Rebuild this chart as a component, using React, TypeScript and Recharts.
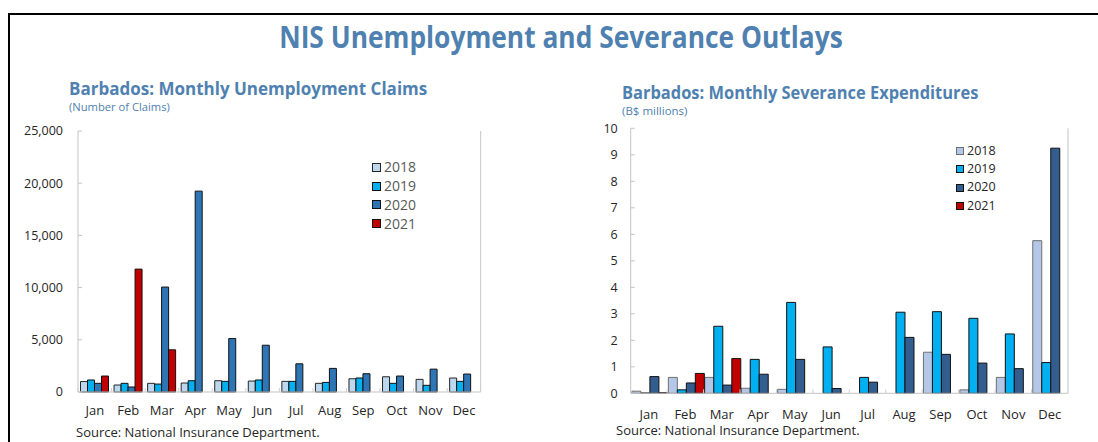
import { Bar, BarChart, Legend, XAxis, YAxis } from "recharts";

const months = ["Jan", "Feb", "Mar", "Apr", "May", "Jun", "Jul", "Aug", "Sep", "Oct", "Nov", "Dec"];
const years = ["2018", "2019", "2020", "2021"];

// unemployment claims (number)
const claims2018 = [1000, 670, 830, 860, 1080, 1050, 1020, 830, 1270, 1460, 1210, 1340];
const claims2019 = [1150, 830, 760, 1080, 1020, 1150, 1020, 920, 1340, 830, 640, 1020];
const claims2020 = [830, 480, 10050, 19240, 5120, 4480, 2700, 2260, 1750, 1530, 2190, 1720];
const claims2021 = [1530, 11770, 4040, null, null, null, null, null, null, null, null, null];
const claimTicks = [0, 5000, 10000, 15000, 20000, 25000];

// severance expenditures (B$ millions)
const sev2018 = [0.08, 0.6, 0.6, 0.19, 0.15, 0, 0, 0, 1.55, 0.13, 0.6, 5.76];
const sev2019 = [0.01, 0.13, 2.53, 1.28, 3.43, 1.75, 0.6, 3.06, 3.08, 2.83, 2.24, 1.16];
const sev2020 = [0.63, 0.39, 0.31, 0.72, 1.28, 0.18, 0.42, 2.11, 1.47, 1.14, 0.93, 9.25];
const sev2021 = [0.02, 0.75, 1.31, null, null, null, null, null, null, null, null, null];
const sevTicks = [0, 1, 2, 3, 4, 5, 6, 7, 8, 9, 10];

const claimsData = months.map((m, i) => ({
  month: m,
  y2018: claims2018[i],
  y2019: claims2019[i],
  y2020: claims2020[i],
  y2021: claims2021[i],
}));

const sevData = months.map((m, i) => ({
  month: m,
  y2018: sev2018[i],
  y2019: sev2019[i],
  y2020: sev2020[i],
  y2021: sev2021[i],
}));

const FONT = "'Open Sans', 'Noto Sans', sans-serif";
const BLUE_TEXT = "#4f81b0";
const AXIS = "#c4c4c4";

const leftFills = ["#bdd7ee", "#00b0f0", "#2e75b6", "#c00000"];
const leftStrokes = ["#262626", "#111", "#111", "#111"];
const rightFills = ["#b4c7e7", "#00b0f0", "#335d8f", "#c00000"];
const rightStrokes = ["#6f6f6f", "#111", "#111", "#111"];

function YearLegend({ fills, strokes, box, fontSize, rowH, color }: any) {
  return (
    <div style={{ fontFamily: FONT }}>
      {years.map((y, i) => (
        <div key={y} style={{ display: "flex", alignItems: "center", height: rowH }}>
          <span
            style={{
              width: box,
              height: box,
              background: fills[i],
              border: `1px solid ${strokes[i]}`,
              marginRight: 3,
              boxSizing: "border-box",
            }}
          />
          <span style={{ fontSize, color, lineHeight: 1 }}>{y}</span>
        </div>
      ))}
    </div>
  );
}

// month label plus a small separator mark at the left edge of each category
const monthTick = (band: number, margin: number) => (props: any) => {
  const { x, y, payload } = props;
  const axisY = y - margin;
  return (
    <g>
      <line x1={x - band / 2} x2={x - band / 2} y1={axisY - 4} y2={axisY} stroke="#d0d0d0" />
      <text x={x} y={y} dy="0.71em" textAnchor="middle" fill="#262626" fontSize={13} fontFamily={FONT}>
        {payload.value}
      </text>
    </g>
  );
};

const fmt = (v: number) => v.toLocaleString("en-US");

export default function App() {
  return (
    <div
      style={{
        position: "fixed",
        left: 0,
        top: 0,
        width: 1098,
        height: 442,
        background: "#fff",
        fontFamily: FONT,
        overflow: "hidden",
      }}
    >
      <div
        style={{
          position: "absolute",
          left: 8,
          top: 13,
          width: 1200,
          height: 500,
          borderTop: "2px solid #000",
          borderLeft: "2px solid #000",
        }}
      />
      <div
        style={{
          position: "absolute",
          left: 12,
          top: 15,
          width: 1098,
          textAlign: "center",
          fontSize: 31,
          fontWeight: 700,
          color: BLUE_TEXT,
          transform: "scaleX(0.85)",
          whiteSpace: "nowrap",
        }}
      >
        NIS Unemployment and Severance Outlays
      </div>

      <div style={{ position: "absolute", left: 69, top: 77, fontSize: 17, fontWeight: 700, color: BLUE_TEXT, whiteSpace: "nowrap" }}>
        Barbados: Monthly Unemployment Claims
      </div>
      <div style={{ position: "absolute", left: 69, top: 99, fontSize: 11.2, color: BLUE_TEXT }}>(Number of Claims)</div>

      <div
        style={{
          position: "absolute",
          left: 622,
          top: 81,
          fontSize: 17,
          fontWeight: 700,
          color: BLUE_TEXT,
          whiteSpace: "nowrap",
          transform: "scaleX(0.967)",
          transformOrigin: "left center",
        }}
      >
        Barbados: Monthly Severance Expenditures
      </div>
      <div style={{ position: "absolute", left: 622, top: 103, fontSize: 11.5, color: BLUE_TEXT }}>(B$ millions)</div>

      <div style={{ position: "absolute", left: 0, top: 0 }}>
        <BarChart
          width={560}
          height={442}
          data={claimsData}
          margin={{ top: 131, right: 0, left: 0, bottom: 20 }}
          barCategoryGap={2.5}
          barGap={0}
        >
          <XAxis
            dataKey="month"
            stroke={AXIS}
            tickLine={false}
            tickSize={0}
            tickMargin={14}
            height={30}
            interval={0}
            tick={monthTick(402.7 / 12, 14)}
          />
          <YAxis
            yAxisId="l"
            width={78}
            domain={[0, 25000]}
            ticks={claimTicks}
            tickFormatter={fmt}
            stroke={AXIS}
            tickSize={-4}
            tickMargin={19}
            tick={{ fill: "#262626", fontSize: 12.5, fontFamily: FONT }}
          />
          <YAxis
            yAxisId="r"
            orientation="right"
            width={79.3}
            domain={[0, 25000]}
            ticks={claimTicks}
            tickFormatter={fmt}
            stroke={AXIS}
            tickSize={-4}
            tickMargin={18}
            tick={{ fill: "#262626", fontSize: 12.5, fontFamily: FONT }}
          />
          <Legend
            layout="vertical"
            align="center"
            verticalAlign="middle"
            wrapperStyle={{ left: 372, top: 158, width: 80 }}
            content={() => (
              <YearLegend fills={leftFills} strokes={leftStrokes} box={9} fontSize={14} rowH={18.8} color="#595959" />
            )}
          />
          {years.map((y, i) => (
            <Bar
              key={y}
              yAxisId="l"
              dataKey={`y${y}`}
              name={y}
              fill={leftFills[i]}
              stroke={leftStrokes[i]}
              strokeWidth={1}
              isAnimationActive={false}
            />
          ))}
        </BarChart>
      </div>

      <div style={{ position: "absolute", left: 560, top: 0 }}>
        <BarChart
          width={538}
          height={442}
          data={sevData}
          margin={{ top: 128.3, right: 0, left: 0, bottom: 18.7 }}
          barCategoryGap={1.2}
          barGap={0}
        >
          <XAxis
            dataKey="month"
            stroke={AXIS}
            tickLine={false}
            tickSize={0}
            tickMargin={16}
            height={30}
            interval={0}
            tick={monthTick(437.3 / 12, 16)}
          />
          <YAxis
            yAxisId="l"
            width={70.7}
            domain={[0, 10]}
            ticks={sevTicks}
            stroke={AXIS}
            tickSize={-4}
            tickMargin={17}
            tick={{ fill: "#262626", fontSize: 12.5, fontFamily: FONT }}
          />
          <YAxis
            yAxisId="r"
            orientation="right"
            width={30}
            domain={[0, 10]}
            ticks={sevTicks}
            stroke={AXIS}
            tickSize={-4}
            tickMargin={14}
            tick={{ fill: "#262626", fontSize: 12.5, fontFamily: FONT }}
          />
          <Legend
            layout="vertical"
            align="center"
            verticalAlign="middle"
            wrapperStyle={{ left: 396, top: 142, width: 70 }}
            content={() => (
              <YearLegend fills={rightFills} strokes={rightStrokes} box={8} fontSize={12.5} rowH={18.3} color="#262626" />
            )}
          />
          {years.map((y, i) => (
            <Bar
              key={y}
              yAxisId="l"
              dataKey={`y${y}`}
              name={y}
              fill={rightFills[i]}
              stroke={rightStrokes[i]}
              strokeWidth={1}
              isAnimationActive={false}
            />
          ))}
        </BarChart>
      </div>

      <div style={{ position: "absolute", left: 76, top: 423, fontSize: 13, color: "#262626", whiteSpace: "nowrap" }}>
        Source: National Insurance Department.
      </div>
      <div style={{ position: "absolute", left: 616, top: 421, fontSize: 13, color: "#262626", whiteSpace: "nowrap" }}>
        Source: National Insurance Department.
      </div>
    </div>
  );
}
